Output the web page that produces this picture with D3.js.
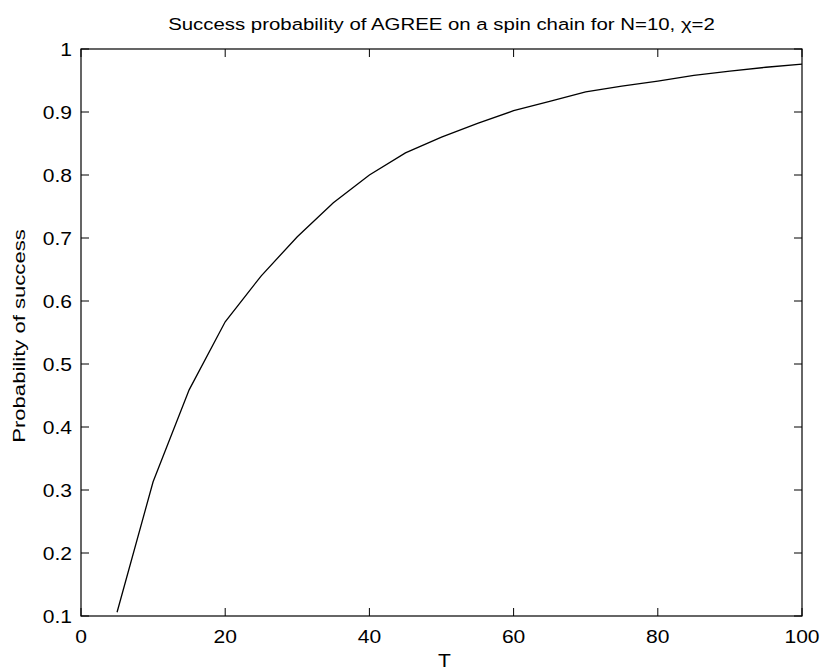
<!DOCTYPE html>
<html><head><meta charset="utf-8">
<script src="https://cdn.jsdelivr.net/npm/d3@7"></script>
<style>body{margin:0;background:#fff}svg{display:block}</style>
</head><body>
<svg id="c" width="828" height="669"></svg>
<script>
const T = [5,10,15,20,25,30,35,40,45,50,55,60,65,70,75,80,85,90,95,100];
const P = [0.106,0.313,0.459,0.567,0.640,0.702,0.756,0.800,0.835,0.860,0.882,0.902,0.917,0.932,0.941,0.949,0.958,0.965,0.971,0.976];
const xTicks = [0,20,40,60,80,100];
const yTicks = [0.1,0.2,0.3,0.4,0.5,0.6,0.7,0.8,0.9,1];
const yTickLabels = ["0.1","0.2","0.3","0.4","0.5","0.6","0.7","0.8","0.9","1"];
const title = "Success probability of AGREE on a spin chain for N=10, χ=2";

const L=81, R=802, Tp=49, B=616;
const svg = d3.select("#c");
const x = d3.scaleLinear().domain([0,100]).range([L,R]);
const y = d3.scaleLinear().domain([0.1,1]).range([B,Tp]);
const font = "'Liberation Sans', Arial, sans-serif";

svg.append("rect").attr("x",L).attr("y",Tp).attr("width",R-L).attr("height",B-Tp)
  .attr("fill","none").attr("stroke","#000").attr("stroke-width",1.2);

const tl = 8;
const g = svg.append("g").attr("stroke","#000").attr("stroke-width",1);
xTicks.forEach(t=>{
  g.append("line").attr("x1",x(t)).attr("x2",x(t)).attr("y1",B).attr("y2",B-tl);
  g.append("line").attr("x1",x(t)).attr("x2",x(t)).attr("y1",Tp).attr("y2",Tp+tl);
});
yTicks.forEach(t=>{
  g.append("line").attr("y1",y(t)).attr("y2",y(t)).attr("x1",L).attr("x2",L+tl);
  g.append("line").attr("y1",y(t)).attr("y2",y(t)).attr("x1",R).attr("x2",R-tl);
});

svg.selectAll(".xl").data(xTicks).enter().append("text")
  .attr("transform",d=>`translate(${x(d)},${B+27}) scale(1.17,1)`).attr("text-anchor","middle")
  .attr("font-family",font).attr("font-size",18).text(d=>d);
svg.selectAll(".yl").data(yTicks).enter().append("text")
  .attr("transform",d=>`translate(${L-9},${y(d)+6.5}) scale(1.17,1)`).attr("text-anchor","end")
  .attr("font-family",font).attr("font-size",18).text((d,i)=>yTickLabels[i]);

const line = d3.line().x((d,i)=>x(T[i])).y(d=>y(d));
svg.append("path").attr("d",line(P)).attr("fill","none").attr("stroke","#000").attr("stroke-width",1.3);

svg.append("text").attr("transform",`translate(${(L+R)/2},30) scale(1.2,1)`).attr("text-anchor","middle")
  .attr("font-family",font).attr("font-size",17).text(title);
svg.append("text").attr("transform",`translate(${(L+R)/2+3},667) scale(1.17,1)`).attr("text-anchor","middle")
  .attr("font-family",font).attr("font-size",18).text("T");
svg.append("text").attr("transform",`translate(25,336) rotate(-90) scale(1.3,1)`).attr("text-anchor","middle")
  .attr("font-family",font).attr("font-size",17).text("Probability of success");
</script>
</body></html>
